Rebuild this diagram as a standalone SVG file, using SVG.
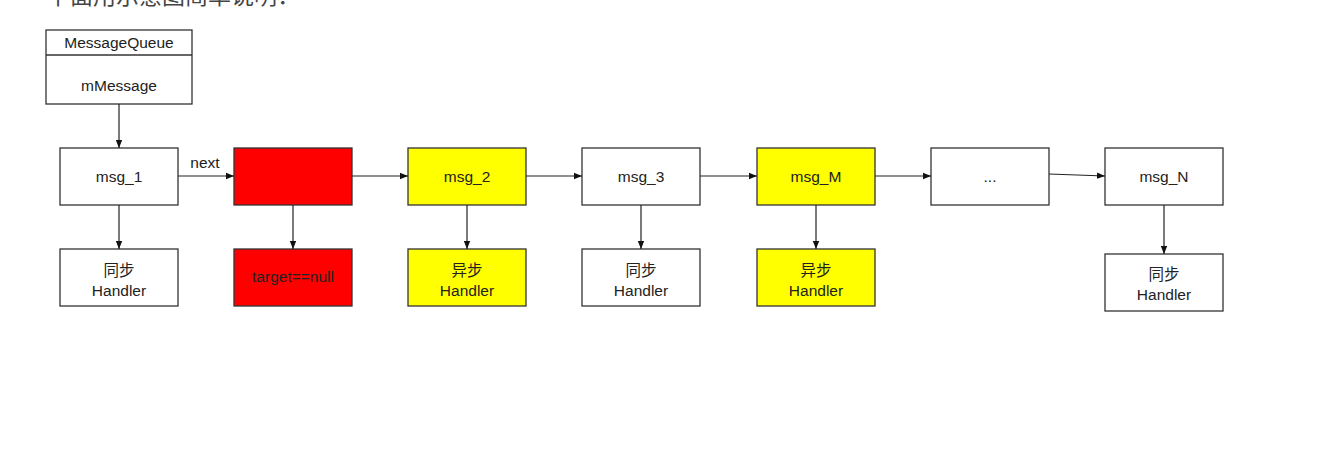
<svg xmlns="http://www.w3.org/2000/svg" width="1330" height="451" viewBox="0 0 1330 451">
<defs>
<style>
.box{stroke:#333;stroke-width:1.3}
.w{fill:#fff}
.r{fill:#ff0000}
.y{fill:#ffff00}
.t{font-family:"Liberation Sans","Noto Sans CJK SC",Arial,sans-serif;font-size:15.5px;fill:#222;text-anchor:middle}
.c{stroke:#222;stroke-width:1.2;fill:none;marker-end:url(#ah)}
</style>
<marker id="ah" viewBox="0 0 10 10" refX="10" refY="5" markerWidth="8" markerHeight="8" markerUnits="userSpaceOnUse" orient="auto">
<path d="M0,1 L10,5 L0,9 Z" fill="#111"/>
</marker>
</defs>
<rect width="1330" height="451" fill="#fff"/>
<text x="47" y="4" font-family="Noto Sans CJK SC,sans-serif" font-size="23" fill="#444">下面用示意图简单说明：</text>

<g id="mq">
<rect class="box w" x="46" y="30" width="146" height="74"/>
<line x1="46" y1="55" x2="192" y2="55" stroke="#333" stroke-width="1.3"/>
<text class="t" x="119" y="48">MessageQueue</text>
<text class="t" x="119" y="91">mMessage</text>
</g>

<g id="msg1"><rect class="box w" x="60" y="148" width="118" height="57"/><text class="t" x="119" y="182">msg_1</text></g>
<g id="barrier"><rect class="box r" x="234" y="148" width="118" height="57"/></g>
<g id="msg2"><rect class="box y" x="408" y="148" width="118" height="57"/><text class="t" x="467" y="182">msg_2</text></g>
<g id="msg3"><rect class="box w" x="582" y="148" width="118" height="57"/><text class="t" x="641" y="182">msg_3</text></g>
<g id="msgM"><rect class="box y" x="757" y="148" width="118" height="57"/><text class="t" x="816" y="182">msg_M</text></g>
<g id="dots"><rect class="box w" x="931" y="148" width="118" height="57"/><text class="t" x="990" y="182">...</text></g>
<g id="msgN"><rect class="box w" x="1105" y="148" width="118" height="57"/><text class="t" x="1164" y="182">msg_N</text></g>

<g id="h1"><rect class="box w" x="60" y="249" width="118" height="57"/><text class="t" x="119" y="276">同步</text><text class="t" x="119" y="296">Handler</text></g>
<g id="hb"><rect class="box r" x="234" y="249" width="118" height="57"/><text class="t" x="293" y="282">target==null</text></g>
<g id="h2"><rect class="box y" x="408" y="249" width="118" height="57"/><text class="t" x="467" y="276">异步</text><text class="t" x="467" y="296">Handler</text></g>
<g id="h3"><rect class="box w" x="582" y="249" width="118" height="57"/><text class="t" x="641" y="276">同步</text><text class="t" x="641" y="296">Handler</text></g>
<g id="hM"><rect class="box y" x="757" y="249" width="118" height="57"/><text class="t" x="816" y="276">异步</text><text class="t" x="816" y="296">Handler</text></g>
<g id="hN"><rect class="box w" x="1105" y="254" width="118" height="57"/><text class="t" x="1164" y="280">同步</text><text class="t" x="1164" y="300">Handler</text></g>

<g id="connectors">
<line class="c" x1="119" y1="104" x2="119" y2="148"/>
<line class="c" x1="178" y1="176" x2="234" y2="176"/>
<text class="t" x="205" y="168">next</text>
<line class="c" x1="352" y1="176" x2="408" y2="176"/>
<line class="c" x1="526" y1="176" x2="582" y2="176"/>
<line class="c" x1="700" y1="176" x2="757" y2="176"/>
<line class="c" x1="875" y1="176" x2="931" y2="176"/>
<line class="c" x1="1049" y1="174" x2="1105" y2="176"/>
<line class="c" x1="119" y1="205" x2="119" y2="249"/>
<line class="c" x1="293" y1="205" x2="293" y2="249"/>
<line class="c" x1="467" y1="205" x2="467" y2="249"/>
<line class="c" x1="641" y1="205" x2="641" y2="249"/>
<line class="c" x1="816" y1="205" x2="816" y2="249"/>
<line class="c" x1="1164" y1="205" x2="1164" y2="254"/>
</g>
</svg>
